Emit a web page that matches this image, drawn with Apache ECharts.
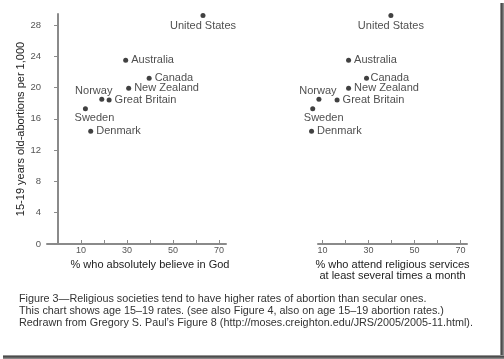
<!DOCTYPE html>
<html>
<head>
<meta charset="utf-8">
<script src="https://cdn.jsdelivr.net/npm/echarts@6/dist/echarts.min.js"></script>
<style>
html,body{margin:0;padding:0;background:#fff;}
#c{width:504px;height:359px;}
</style>
</head>
<body>
<div id="c"></div>
<script>
// ---- data ----
const countries = ['United States','Australia','Canada','New Zealand','Norway','Great Britain','Sweden','Denmark'];
const believeInGod = [63, 29.4, 39.6, 30.7, 19, 22.2, 11.9, 14.2];
const attendServices = [39.7, 21.3, 29.1, 21.3, 8.4, 16.3, 5.7, 5.2];
const abortionRate = [29.2, 23.5, 21.2, 19.9, 18.5, 18.4, 17.3, 14.4];
const yTickValues = [0, 4, 8, 12, 16, 20, 24, 28];
const xTickValues = [10, 20, 30, 40, 50, 60, 70];
const xLabelValues = [10, 30, 50, 70];
const captionLines = [
  'Figure 3\u2014Religious societies tend to have higher rates of abortion than secular ones.',
  'This chart shows age 15\u201319 rates. (see also Figure 4, also on age 15\u201319 abortion rates.)',
  'Redrawn from Gregory S. Paul\u2019s Figure 8 (http://moses.creighton.edu/JRS/2005/2005-11.html).'
];

// ---- styles ----
const FONT = '"Liberation Sans", Arial, sans-serif';
const axisGray = '#8a8a8a';

function labelFor(name, side) {
  const base = {show: true, formatter: '{b}', color: '#222', fontSize: 11, fontFamily: FONT};
  if (name === 'United States') return Object.assign(base, {position: 'bottom', distance: 2});
  if (name === 'Norway') return Object.assign(base, {position: 'top', distance: 0, offset: [side === 0 ? -8 : -1, 0]});
  if (name === 'Sweden') return Object.assign(base, {position: 'bottom', distance: 1, offset: [side === 0 ? 9 : 11, 0]});
  return Object.assign(base, {position: 'right', distance: side === 1 && name === 'Canada' ? 1.5 : 3});
}

function buildData(xs, side) {
  return countries.map((n, i) => ({name: n, value: [xs[i], abortionRate[i]], label: labelFor(n, side)}));
}

function xAxisCfg(idx, min, max, name, nameOpts) {
  return Object.assign({
    type: 'value', gridIndex: idx, min: min, max: max,
    splitLine: {show: false},
    axisLine: {show: true, onZero: false, lineStyle: {color: axisGray, width: 2}},
    axisTick: {show: true, inside: true, length: 4, customValues: xTickValues, lineStyle: {color: axisGray, width: 1}},
    axisLabel: {show: true, customValues: xLabelValues, margin: 2, fontSize: 9, color: '#555', fontFamily: FONT},
    name: name, nameLocation: 'middle'
  }, nameOpts);
}

const chart = echarts.init(document.getElementById('c'), null, {renderer: 'canvas'});
chart.setOption({
  animation: false,
  backgroundColor: '#fff',
  grid: [
    {left: 47, top: 14, width: 179, height: 230},
    {left: 318, top: 14, width: 149, height: 230}
  ],
  xAxis: [
    xAxisCfg(0, -4.8, 73, '% who absolutely believe in God', {
      nameGap: 13,
      nameTextStyle: {fontSize: 11, color: '#222', fontFamily: FONT, padding: [0, 0, 0, 27]}
    }),
    xAxisCfg(1, 8, 72.8, '% who attend religious services\nat least several times a month', {
      nameGap: 12,
      nameTextStyle: {fontSize: 11, lineHeight: 11, color: '#222', fontFamily: FONT}
    })
  ],
  yAxis: [
    {
      type: 'value', gridIndex: 0, min: 0, max: 29.4,
      splitLine: {show: false},
      axisLine: {show: true, lineStyle: {color: axisGray, width: 2}},
      axisTick: {show: true, length: 4, customValues: yTickValues, lineStyle: {color: axisGray}},
      axisLabel: {customValues: yTickValues, margin: 6, fontSize: 9.5, color: '#555', fontFamily: FONT},
      name: '15-19 years old-abortions per 1,000', nameLocation: 'middle', nameGap: 16,
      nameTextStyle: {fontSize: 11, color: '#222', fontFamily: FONT}
    },
    {
      type: 'value', gridIndex: 1, min: 0, max: 29.4, show: false,
      splitLine: {show: false}
    }
  ],
  series: [
    {type: 'scatter', xAxisIndex: 0, yAxisIndex: 0, symbolSize: 5, clip: false,
     itemStyle: {color: '#111'}, data: buildData(believeInGod, 0)},
    {type: 'scatter', xAxisIndex: 1, yAxisIndex: 1, symbolSize: 5, clip: false,
     itemStyle: {color: '#111'}, data: buildData(attendServices, 1)}
  ],
  graphic: [
    {type: 'rect', shape: {x: 500, y: 3, width: 4, height: 356}, silent: true,
     style: {fill: new echarts.graphic.LinearGradient(0, 0, 1, 0, [
       {offset: 0, color: '#b5b5b5'}, {offset: 0.4, color: '#444'}, {offset: 1, color: '#9a9a9a'}])}},
    {type: 'rect', shape: {x: 3, y: 355, width: 501, height: 4}, silent: true,
     style: {fill: new echarts.graphic.LinearGradient(0, 0, 0, 1, [
       {offset: 0, color: '#b5b5b5'}, {offset: 0.4, color: '#444'}, {offset: 1, color: '#9a9a9a'}])}},
    {type: 'group', left: 19, top: 294, children: captionLines.map((t, i) => ({
      type: 'text', x: 0, y: i * 11.7,
      style: {text: t, fill: '#333', font: '10.8px ' + FONT}
    }))}
  ]
});
</script>
</body>
</html>
